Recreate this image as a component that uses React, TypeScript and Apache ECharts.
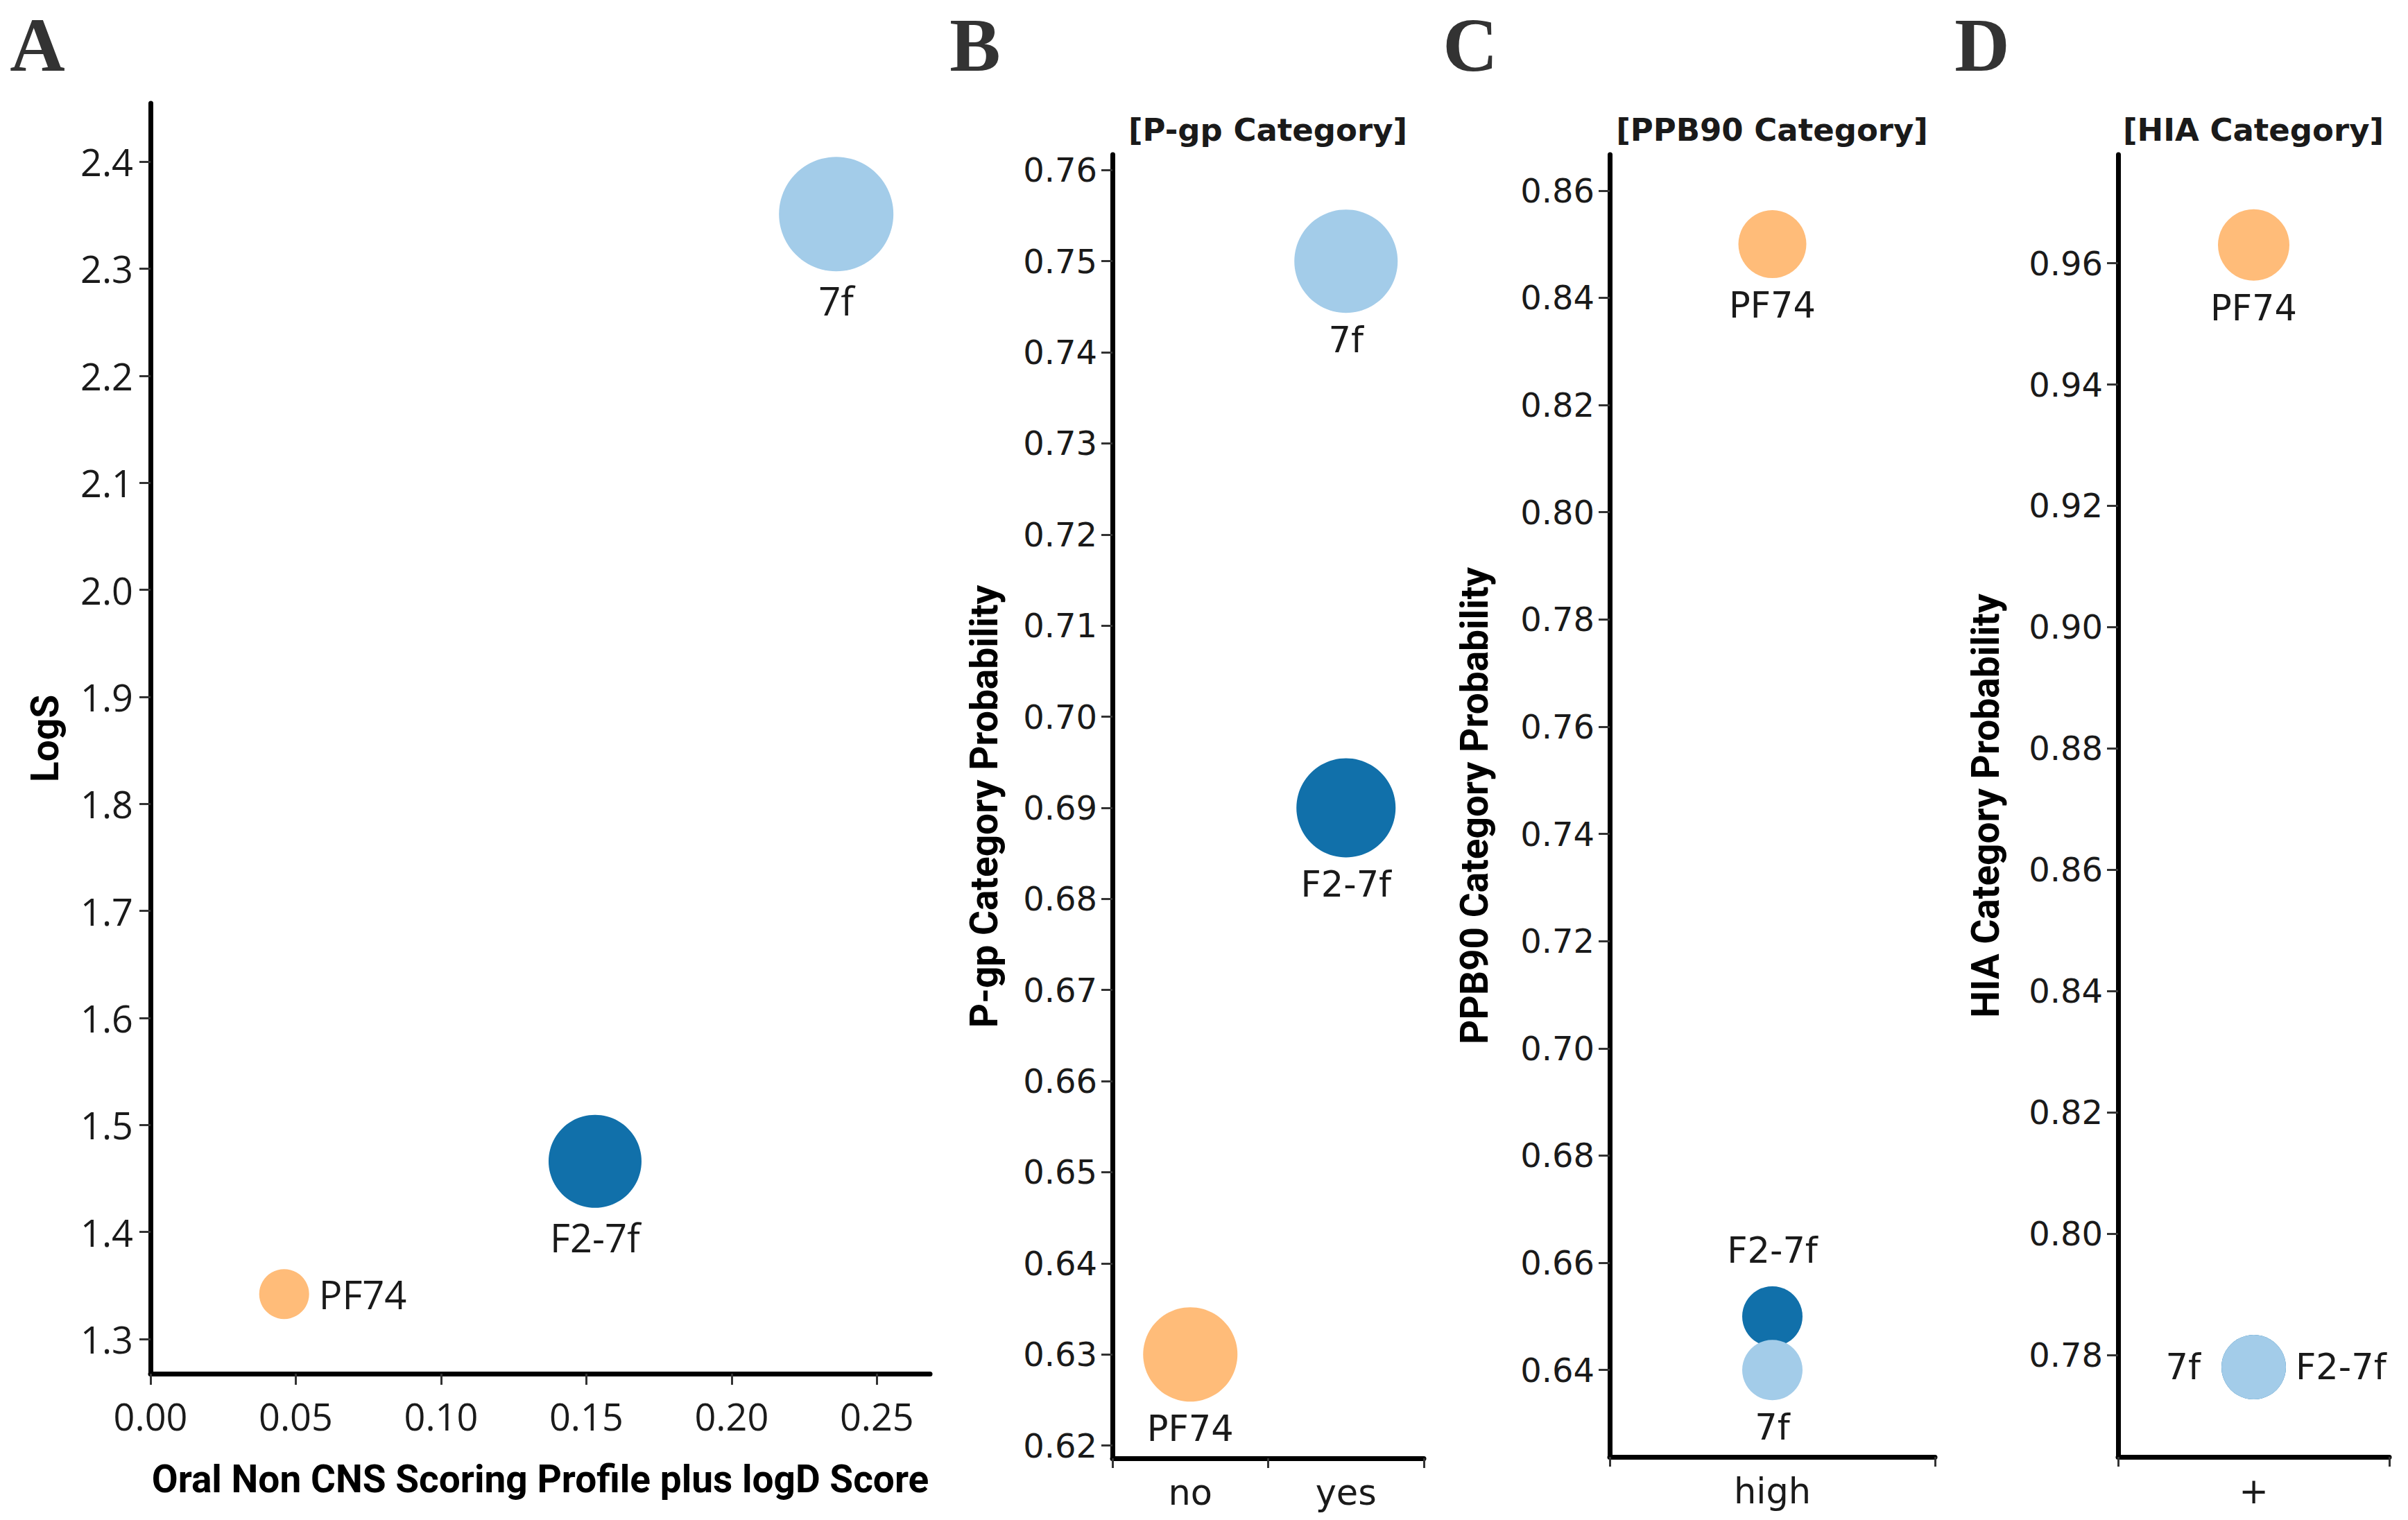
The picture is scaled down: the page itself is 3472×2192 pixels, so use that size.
import React, { useEffect, useRef } from "react";
import * as echarts from "echarts";

// ---------- data ----------
const compounds = ["PF74", "F2-7f", "7f"];

// Panel A
const oralScore = [0.046, 0.153, 0.236];
const logS = [1.342, 1.466, 2.351];
const oralTicks = [0, 0.05, 0.1, 0.15, 0.2, 0.25];
const logSTicks = [1.3, 1.4, 1.5, 1.6, 1.7, 1.8, 1.9, 2.0, 2.1, 2.2, 2.3, 2.4];

// Panel B
const pgpCategories = ["no", "yes"];
const pgpClass = ["no", "yes", "yes"];
const pgpProb = [0.63, 0.69, 0.75];
const pgpTicks = [0.62, 0.63, 0.64, 0.65, 0.66, 0.67, 0.68, 0.69, 0.7, 0.71, 0.72, 0.73, 0.74, 0.75, 0.76];

// Panel C
const ppbCategories = ["high"];
const ppbClass = ["high", "high", "high"];
const ppbProb = [0.85, 0.65, 0.64];
const ppbTicks = [0.64, 0.66, 0.68, 0.7, 0.72, 0.74, 0.76, 0.78, 0.8, 0.82, 0.84, 0.86];

// Panel D
const hiaCategories = ["+"];
const hiaClass = ["+", "+", "+"];
const hiaProb = [0.963, 0.778, 0.778];
const hiaTicks = [0.78, 0.8, 0.82, 0.84, 0.86, 0.88, 0.9, 0.92, 0.94, 0.96];

// ---------- styles ----------
const compoundColors = ["#ffbc79", "#1170aa", "#a3cce9"];
const markerSizeA = [72, 134, 165];
const markerSizeB = [136, 143, 149];
const markerSizeC = [98, 87, 87];
const markerSizeD = [103, 93, 93];
const labelPosA = ["right", "bottom", "bottom"];
const labelPosB = ["bottom", "bottom", "bottom"];
const labelPosC = ["bottom", "top", "bottom"];
const labelPosD = ["bottom", "right", "left"];

const W = 3472;
const H = 2192;

const AXIS_COLOR = "#000";
const TEXT_COLOR = "#1a1a1a";
const fontA = "'Open Sans', sans-serif";
const fontB = "'DejaVu Sans', sans-serif";
const fontTitle = "Roboto, 'Open Sans', sans-serif";

function App() {
  const ref = useRef<HTMLDivElement>(null);

  useEffect(() => {
    document.body.style.margin = "0";
    if (!ref.current) return;
    const chart = echarts.init(ref.current, undefined, { renderer: "svg" });

    const grids = [
      { left: 217, top: 149, width: 1124, height: 1832 },
      { left: 1604, top: 223, width: 449, height: 1880 },
      { left: 2321, top: 223, width: 469, height: 1878 },
      { left: 3054, top: 223, width: 391, height: 1878 },
    ];

    const axisLine = { show: true, lineStyle: { color: AXIS_COLOR, width: 7 } };
    const axisTick = (vals?: number[]) => ({
      show: true,
      length: 16,
      lineStyle: { color: "#333", width: 3 },
      ...(vals ? { customValues: vals } : {}),
    });

    const titleStyle = { fontFamily: fontTitle, fontWeight: "bold", fontSize: 55, color: "#000" };

    const yName = (name: string, gap: number) => ({
      name,
      nameLocation: "middle",
      nameGap: gap,
      nameTextStyle: titleStyle,
    });

    const xAxis: any[] = [
      {
        gridIndex: 0,
        type: "value",
        min: 0,
        max: 0.2683,
        name: "Oral Non CNS Scoring Profile plus logD Score",
        nameLocation: "middle",
        nameGap: 124,
        nameTextStyle: titleStyle,
        axisLine,
        axisTick: axisTick(oralTicks),
        splitLine: { show: false },
        axisLabel: {
          customValues: oralTicks,
          formatter: (v: number) => v.toFixed(2),
          fontFamily: fontA,
          fontSize: 54,
          color: TEXT_COLOR,
          margin: 34,
        },
      },
      ...[pgpCategories, ppbCategories, hiaCategories].map((cats, i) => ({
        gridIndex: i + 1,
        type: "category",
        data: cats,
        axisLine,
        axisTick: { show: true, length: 14, lineStyle: { color: "#333", width: 3 } },
        splitLine: { show: false },
        axisLabel: { fontFamily: fontB, fontSize: 51, color: TEXT_COLOR, margin: 24 },
      })),
    ];

    const yAxisDefs = [
      { min: 1.2676, max: 2.4545, ticks: logSTicks, dec: 1, name: "LogS", gap: 125, font: fontA, size: 54, margin: 25 },
      { min: 0.6186, max: 0.7617, ticks: pgpTicks, dec: 2, name: "P-gp Category Probability", gap: 158, font: fontB, size: 48, margin: 22 },
      { min: 0.6238, max: 0.8667, ticks: ppbTicks, dec: 2, name: "PPB90 Category Probability", gap: 168, font: fontB, size: 48, margin: 22 },
      { min: 0.7632, max: 0.9779, ticks: hiaTicks, dec: 2, name: "HIA Category Probability", gap: 164, font: fontB, size: 48, margin: 22 },
    ];

    const yAxis = yAxisDefs.map((d, i) => ({
      gridIndex: i,
      type: "value",
      min: d.min,
      max: d.max,
      ...yName(d.name, d.gap),
      axisLine,
      axisTick: axisTick(d.ticks),
      splitLine: { show: false },
      axisLabel: {
        customValues: d.ticks,
        formatter: (v: number) => v.toFixed(d.dec),
        fontFamily: d.font,
        fontSize: d.size,
        color: TEXT_COLOR,
        margin: d.margin,
      },
    }));

    const makeSeries = (
      idx: number,
      xs: (number | string)[],
      ys: number[],
      sizes: number[],
      positions: string[],
      font: string,
      fontSize: number
    ) => ({
      type: "scatter",
      xAxisIndex: idx,
      yAxisIndex: idx,
      symbol: "circle",
      clip: false,
      data: compounds.map((c, k) => ({
        name: c,
        value: [xs[k], ys[k]],
        symbolSize: sizes[k],
        itemStyle: { color: compoundColors[k], opacity: 1 },
        label: {
          show: true,
          position: positions[k],
          distance: positions[k] === "left" ? 30 : positions[k] === "top" ? 26 : 14,
          formatter: c,
          fontFamily: font,
          fontSize,
          color: TEXT_COLOR,
        },
      })),
    });

    const series = [
      makeSeries(0, oralScore, logS, markerSizeA, labelPosA, fontA, 56),
      makeSeries(1, pgpClass, pgpProb, markerSizeB, labelPosB, fontB, 51),
      makeSeries(2, ppbClass, ppbProb, markerSizeC, labelPosC, fontB, 51),
      makeSeries(3, hiaClass, hiaProb, markerSizeD, labelPosD, fontB, 51),
    ];

    const letter = (t: string, x: number) => ({
      type: "text",
      x,
      y: 65,
      style: {
        text: t,
        fontFamily: "'Liberation Serif', serif",
        fontWeight: "bold",
        fontSize: 110,
        fill: "#333",
        align: "center",
        verticalAlign: "middle",
      },
    });
    const header = (t: string, x: number) => ({
      type: "text",
      x,
      y: 187,
      style: {
        text: t,
        fontFamily: fontB,
        fontWeight: "bold",
        fontSize: 45,
        fill: "#1a1a1a",
        align: "center",
        verticalAlign: "middle",
      },
    });

    chart.setOption({
      animation: false,
      backgroundColor: "#fff",
      grid: grids,
      xAxis,
      yAxis,
      series,
      graphic: [
        letter("A", 54),
        letter("B", 1406),
        letter("C", 2120),
        letter("D", 2858),
        header("[P-gp Category]", 1828),
        header("[PPB90 Category]", 2555),
        header("[HIA Category]", 3249),
      ],
    });

    return () => chart.dispose();
  }, []);

  return <div ref={ref} style={{ width: W, height: H }} />;
}

export default App;
